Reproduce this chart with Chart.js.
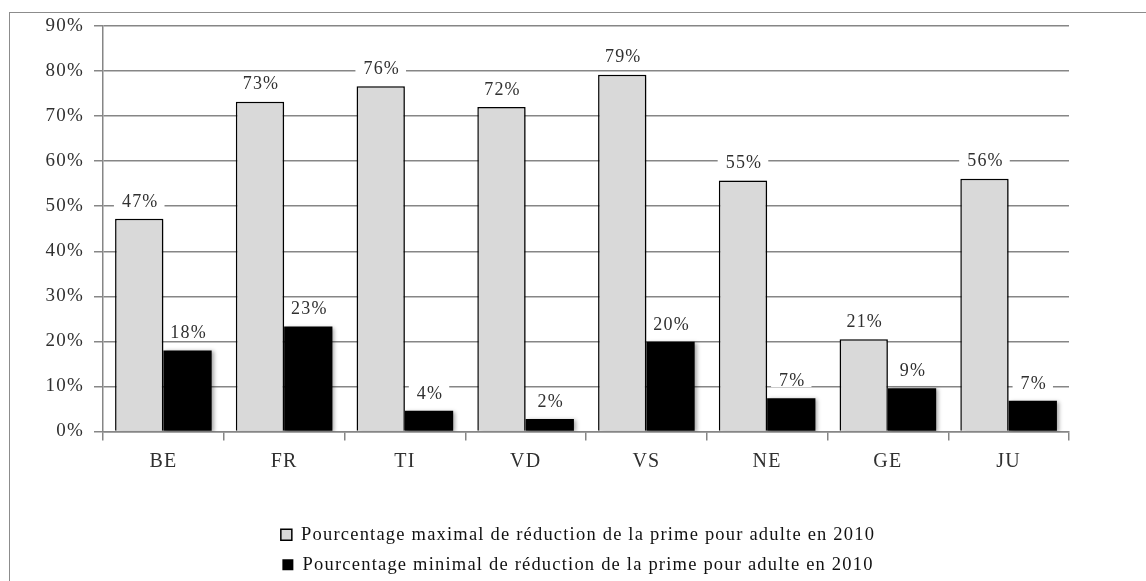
<!DOCTYPE html>
<html><head><meta charset="utf-8">
<script src="https://cdn.jsdelivr.net/npm/chart.js@4/dist/chart.umd.min.js"></script>
<style>
html,body{margin:0;padding:0;background:#fff;overflow:hidden}
#wrap{position:relative;width:1146px;height:581px;overflow:hidden}
#frame{position:absolute;left:9px;top:12px;width:1300px;height:700px;border:1.5px solid #8c8c8c;box-sizing:border-box}
canvas{position:absolute;left:0;top:0}
</style></head>
<body><div id="wrap"><div id="frame"></div><canvas id="c" width="1146" height="581"></canvas></div>
<script>
const categories = ['BE','FR','TI','VD','VS','NE','GE','JU'];
const maxValues = [47.2, 73.2, 76.6, 72.0, 79.2, 55.7, 20.5, 56.1];
const minValues = [18.0, 23.3, 4.6, 2.8, 19.9, 7.4, 9.6, 6.8];
const maxLabels = ['47%','73%','76%','72%','79%','55%','21%','56%'];
const minLabels = ['18%','23%','4%','2%','20%','7%','9%','7%'];
const yTickLabels = ['0%','10%','20%','30%','40%','50%','60%','70%','80%','90%'];
const seriesNames = ['Pourcentage maximal de réduction de la prime pour adulte en 2010',
                     'Pourcentage minimal de réduction de la prime pour adulte en 2010'];

const FONT = '"Liberation Serif", "Times New Roman", serif';
const GRID = '#868686';
const TXT = '#303030';
const SPACING = '1.2px';

const spacingPlugin = {
  id: 'spacing',
  beforeInit(chart) { chart.ctx.letterSpacing = SPACING; },
  beforeUpdate(chart) { chart.ctx.letterSpacing = SPACING; },
  beforeLayout(chart) { chart.ctx.letterSpacing = SPACING; },
  beforeDraw(chart) { chart.ctx.letterSpacing = SPACING; }
};
const labelArrays = [maxLabels, minLabels];
const LABEL_FONT = '18px ' + FONT;
function eachLabel(chart, fn) {
  chart.data.datasets.forEach((ds, di) => {
    chart.getDatasetMeta(di).data.forEach((bar, i) => fn(bar, labelArrays[di][i]));
  });
}
const barLabels = {
  id: 'barLabels',
  beforeDatasetsDraw(chart) {
    const ctx = chart.ctx; ctx.save();
    ctx.font = LABEL_FONT;
    ctx.fillStyle = '#fff';
    eachLabel(chart, (bar, t) => {
      const w = ctx.measureText(t).width;
      const cy = bar.y - 18;
      ctx.fillRect(bar.x - w/2 - 7, cy - 7, w + 14, 14);
    });
    ctx.restore();
  },
  afterDatasetsDraw(chart) {
    const ctx = chart.ctx; ctx.save();
    ctx.shadowColor = 'rgba(0,0,0,0)'; ctx.shadowBlur = 0; ctx.shadowOffsetX = 0; ctx.shadowOffsetY = 0;
    ctx.font = LABEL_FONT; ctx.textAlign = 'center'; ctx.textBaseline = 'middle';
    ctx.fillStyle = TXT;
    eachLabel(chart, (bar, t) => { ctx.fillText(t, bar.x + 1, bar.y - 17); });
    ctx.restore();
  }
};
const shadowPlugin = {
  id: 'shadow',
  beforeDatasetsDraw(chart) {
    const ctx = chart.ctx; ctx.save();
    ctx.shadowColor = 'rgba(0,0,0,0.35)'; ctx.shadowBlur = 4;
    ctx.shadowOffsetX = 2; ctx.shadowOffsetY = 1;
  },
  afterDatasetsDraw(chart) { chart.ctx.restore(); }
};

new Chart(document.getElementById('c'), {
  type: 'bar',
  data: {
    labels: categories,
    datasets: [
      { label: seriesNames[0], data: maxValues, backgroundColor: '#d9d9d9', borderColor: '#000', borderWidth: 1.5, borderSkipped: 'bottom' },
      { label: seriesNames[1], data: minValues, backgroundColor: '#000', borderColor: '#000', borderWidth: 0 }
    ]
  },
  options: {
    responsive: false, animation: false, devicePixelRatio: 1,
    categoryPercentage: 0.8, barPercentage: 1.0,
    layout: { padding: { left: 10, right: 0, top: 26, bottom: -3 } },
    plugins: {
      tooltip: { enabled: false },
      legend: {
        position: 'bottom',
        labels: { boxWidth: 11, boxHeight: 11, padding: 11.5, color: '#111', font: { family: FONT, size: 18.5 } }
      }
    },
    scales: {
      x: {
        afterFit(s) { s.height = 82.5; },
        grid: { display: true, drawOnChartArea: false, drawTicks: true, tickLength: 9, color: GRID, lineWidth: 1.5, offset: true },
        border: { display: true, color: GRID, width: 1.5 },
        ticks: { color: TXT, padding: 9, font: { family: FONT, size: 20 } }
      },
      y: {
        min: 0, max: 90,
        afterFit(s) { s.width = 93; },
        grid: { color: GRID, lineWidth: 1.5, tickLength: 9, drawTicks: true },
        border: { display: true, color: GRID, width: 1.5 },
        ticks: { stepSize: 10, color: TXT, padding: 10, font: { family: FONT, size: 19 },
                 callback: (v, i) => yTickLabels[i] }
      },
      yRight: {
        position: 'right', min: 0, max: 90,
        afterFit(s) { s.width = 77; },
        grid: { display: false, drawOnChartArea: false },
        border: { display: false },
        ticks: { display: false }
      }
    }
  },
  plugins: [spacingPlugin, barLabels, shadowPlugin]
});
</script>
</body></html>
